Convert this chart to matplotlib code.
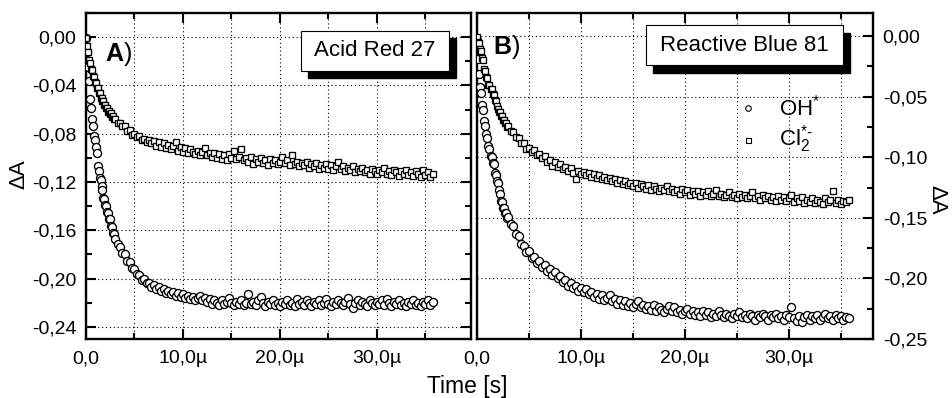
import numpy as np
import matplotlib
matplotlib.use("Agg")
import matplotlib.pyplot as plt
from matplotlib.patches import Rectangle
from matplotlib.ticker import FixedLocator, FixedFormatter, MultipleLocator

plt.rcParams['font.family'] = ['Liberation Sans', 'DejaVu Sans']
plt.rcParams['mathtext.fontset'] = 'custom'
plt.rcParams['mathtext.rm'] = 'Liberation Sans'
plt.rcParams['mathtext.it'] = 'Liberation Sans:italic'
plt.rcParams['mathtext.bf'] = 'Liberation Sans:bold'

# time samples in microseconds: 0.1 us steps at the start, 0.25 us afterwards
t_us = np.concatenate([np.arange(30) * 0.1, 3.0 + np.arange(132) * 0.25])

# A) Acid Red 27
ar_oh = [-0.001, -0.012, -0.025, -0.036, -0.051, -0.059, -0.068, -0.074, -0.082, -0.085,
         -0.091, -0.096, -0.107, -0.111, -0.117, -0.118, -0.123, -0.127, -0.133, -0.134,
         -0.139, -0.140, -0.145, -0.146, -0.151, -0.151, -0.156, -0.157, -0.162, -0.163,
         -0.167, -0.171, -0.174, -0.179, -0.180, -0.185, -0.186, -0.191, -0.192, -0.196,
         -0.197, -0.201, -0.200, -0.204, -0.204, -0.207, -0.205, -0.209, -0.207, -0.210,
         -0.209, -0.212, -0.210, -0.213, -0.211, -0.214, -0.212, -0.215, -0.213, -0.216,
         -0.214, -0.217, -0.215, -0.218, -0.216, -0.214, -0.218, -0.216, -0.219, -0.217,
         -0.221, -0.218, -0.220, -0.222, -0.218, -0.221, -0.219, -0.216, -0.220, -0.222,
         -0.219, -0.221, -0.218, -0.222, -0.220, -0.213, -0.221, -0.219, -0.222, -0.218,
         -0.215, -0.220, -0.223, -0.219, -0.221, -0.218, -0.222, -0.220, -0.223, -0.219,
         -0.221, -0.218, -0.222, -0.220, -0.223, -0.217, -0.221, -0.219, -0.222, -0.218,
         -0.220, -0.223, -0.219, -0.221, -0.218, -0.222, -0.220, -0.217, -0.221, -0.223,
         -0.219, -0.221, -0.218, -0.220, -0.222, -0.219, -0.216, -0.221, -0.224, -0.220,
         -0.218, -0.222, -0.219, -0.221, -0.223, -0.218, -0.220, -0.222, -0.219, -0.221,
         -0.218, -0.222, -0.217, -0.220, -0.223, -0.219, -0.221, -0.218, -0.222, -0.220,
         -0.223, -0.219, -0.221, -0.218, -0.222, -0.220, -0.223, -0.219, -0.221, -0.218,
         -0.222, -0.219]
ar_cl2 = [-0.001, -0.007, -0.012, -0.019, -0.021, -0.026, -0.027, -0.032, -0.033, -0.037,
          -0.038, -0.042, -0.042, -0.046, -0.046, -0.050, -0.050, -0.053, -0.053, -0.056,
          -0.056, -0.059, -0.059, -0.062, -0.061, -0.064, -0.063, -0.066, -0.065, -0.068,
          -0.068, -0.071, -0.071, -0.074, -0.074, -0.078, -0.077, -0.081, -0.080, -0.083,
          -0.082, -0.085, -0.084, -0.087, -0.085, -0.088, -0.086, -0.090, -0.087, -0.091,
          -0.088, -0.092, -0.089, -0.093, -0.090, -0.087, -0.094, -0.091, -0.095, -0.092,
          -0.096, -0.093, -0.095, -0.097, -0.094, -0.098, -0.095, -0.092, -0.098, -0.096,
          -0.099, -0.096, -0.100, -0.097, -0.101, -0.098, -0.102, -0.097, -0.100, -0.094,
          -0.101, -0.099, -0.093, -0.102, -0.100, -0.103, -0.099, -0.105, -0.101, -0.103,
          -0.100, -0.104, -0.102, -0.106, -0.101, -0.104, -0.102, -0.105, -0.103, -0.099,
          -0.104, -0.102, -0.106, -0.098, -0.105, -0.103, -0.107, -0.104, -0.106, -0.103,
          -0.108, -0.105, -0.107, -0.104, -0.109, -0.106, -0.108, -0.105, -0.109, -0.106,
          -0.110, -0.107, -0.103, -0.109, -0.107, -0.111, -0.108, -0.110, -0.107, -0.112,
          -0.109, -0.111, -0.108, -0.112, -0.110, -0.113, -0.109, -0.111, -0.113, -0.110,
          -0.112, -0.108, -0.113, -0.111, -0.114, -0.110, -0.112, -0.115, -0.111, -0.113,
          -0.110, -0.114, -0.112, -0.115, -0.111, -0.113, -0.116, -0.110, -0.114, -0.112,
          -0.116, -0.113]

# B) Reactive Blue 81
rb_oh = [-0.003, -0.019, -0.031, -0.042, -0.047, -0.057, -0.061, -0.070, -0.074, -0.081,
         -0.084, -0.091, -0.093, -0.099, -0.100, -0.105, -0.106, -0.113, -0.115, -0.120,
         -0.121, -0.127, -0.130, -0.136, -0.137, -0.142, -0.142, -0.146, -0.146, -0.150,
         -0.149, -0.155, -0.157, -0.163, -0.165, -0.172, -0.173, -0.178, -0.177, -0.183,
         -0.182, -0.187, -0.186, -0.191, -0.189, -0.194, -0.192, -0.197, -0.195, -0.200,
         -0.198, -0.203, -0.201, -0.206, -0.204, -0.208, -0.206, -0.210, -0.208, -0.211,
         -0.209, -0.213, -0.211, -0.215, -0.213, -0.217, -0.214, -0.218, -0.216, -0.214,
         -0.219, -0.217, -0.221, -0.218, -0.222, -0.219, -0.223, -0.220, -0.224, -0.221,
         -0.219, -0.224, -0.222, -0.225, -0.223, -0.226, -0.222, -0.227, -0.224, -0.226,
         -0.228, -0.225, -0.223, -0.227, -0.224, -0.228, -0.226, -0.229, -0.227, -0.225,
         -0.229, -0.227, -0.230, -0.228, -0.231, -0.227, -0.230, -0.228, -0.232, -0.229,
         -0.231, -0.227, -0.230, -0.232, -0.229, -0.231, -0.233, -0.229, -0.231, -0.228,
         -0.232, -0.230, -0.233, -0.229, -0.231, -0.234, -0.230, -0.232, -0.229, -0.231,
         -0.234, -0.230, -0.232, -0.229, -0.233, -0.231, -0.234, -0.230, -0.232, -0.224,
         -0.233, -0.235, -0.231, -0.236, -0.232, -0.230, -0.234, -0.231, -0.233, -0.230,
         -0.234, -0.232, -0.229, -0.233, -0.231, -0.234, -0.230, -0.233, -0.231, -0.234,
         -0.232, -0.233]
rb_cl2 = [-0.001, -0.005, -0.006, -0.011, -0.012, -0.018, -0.020, -0.027, -0.029, -0.034,
          -0.035, -0.040, -0.040, -0.044, -0.044, -0.048, -0.049, -0.053, -0.054, -0.058,
          -0.060, -0.063, -0.063, -0.066, -0.066, -0.069, -0.069, -0.072, -0.072, -0.075,
          -0.074, -0.078, -0.079, -0.083, -0.084, -0.088, -0.088, -0.093, -0.092, -0.096,
          -0.094, -0.098, -0.097, -0.101, -0.099, -0.104, -0.102, -0.107, -0.104, -0.108,
          -0.106, -0.110, -0.108, -0.111, -0.109, -0.113, -0.118, -0.111, -0.114, -0.112,
          -0.115, -0.113, -0.116, -0.114, -0.117, -0.115, -0.118, -0.116, -0.119, -0.117,
          -0.120, -0.118, -0.121, -0.119, -0.122, -0.120, -0.123, -0.121, -0.124, -0.121,
          -0.125, -0.122, -0.124, -0.126, -0.123, -0.127, -0.124, -0.126, -0.128, -0.125,
          -0.127, -0.124, -0.128, -0.126, -0.129, -0.127, -0.130, -0.126, -0.129, -0.127,
          -0.131, -0.128, -0.130, -0.128, -0.132, -0.129, -0.131, -0.128, -0.132, -0.130,
          -0.127, -0.132, -0.130, -0.133, -0.131, -0.129, -0.133, -0.131, -0.134, -0.130,
          -0.133, -0.131, -0.134, -0.132, -0.129, -0.134, -0.132, -0.135, -0.131, -0.134,
          -0.132, -0.135, -0.133, -0.136, -0.132, -0.135, -0.133, -0.136, -0.134, -0.131,
          -0.137, -0.134, -0.136, -0.133, -0.138, -0.135, -0.137, -0.134, -0.138, -0.135,
          -0.137, -0.139, -0.134, -0.137, -0.135, -0.128, -0.138, -0.135, -0.139, -0.136,
          -0.137, -0.135]

x_ticks = [0, 10, 20, 30]
x_ticklabels = ['0,0', '10,0\u00b5', '20,0\u00b5', '30,0\u00b5']
a_yticks = [0.0, -0.04, -0.08, -0.12, -0.16, -0.20, -0.24]
a_yticklabels = ['0,00', '-0,04', '-0,08', '-0,12', '-0,16', '-0,20', '-0,24']
b_yticks = [0.0, -0.05, -0.10, -0.15, -0.20, -0.25]
b_yticklabels = ['0,00', '-0,05', '-0,10', '-0,15', '-0,20', '-0,25']

W, H = 952, 398
fig = plt.figure(figsize=(W / 100, H / 100), dpi=100)
ax_a = fig.add_axes([86 / W, 1 - 339 / H, 385 / W, 326 / H])
ax_b = fig.add_axes([477 / W, 1 - 339 / H, 396 / W, 326 / H])

grid_kw = dict(color='black', linestyle=(0, (1, 2.5)), linewidth=0.8)


def style_axis(ax, yticks, ylabels, xlim, ylim, ydminor, right):
    ax.set_xlim(*xlim)
    ax.set_ylim(*ylim)
    ax.xaxis.set_major_locator(FixedLocator(x_ticks))
    ax.xaxis.set_major_formatter(FixedFormatter(x_ticklabels))
    ax.xaxis.set_minor_locator(MultipleLocator(5))
    ax.yaxis.set_major_locator(FixedLocator(yticks))
    ax.yaxis.set_major_formatter(FixedFormatter(ylabels))
    ax.yaxis.set_minor_locator(MultipleLocator(ydminor))
    ax.grid(True, which='both', axis='x', **grid_kw)
    ax.grid(True, which='major', axis='y', **grid_kw)
    ax.set_axisbelow(True)
    for s in ax.spines.values():
        s.set_linewidth(1.7)
    ax.tick_params(which='both', direction='in', width=1.5, top=True, labelsize=14)
    ax.tick_params(which='major', length=7)
    ax.tick_params(which='minor', length=4)
    ax.tick_params(axis='x', pad=8)
    if right:
        ax.tick_params(axis='y', which='both', left=False, right=True,
                       labelleft=False, labelright=True, pad=7)
    else:
        ax.tick_params(axis='y', which='both', left=True, right=True, pad=7)


style_axis(ax_a, a_yticks, a_yticklabels, (0, 39.7), (-0.25, 0.02), 0.02, False)
style_axis(ax_b, b_yticks, b_yticklabels, (0, 38.1), (-0.25, 0.019), 0.025, True)

mk = dict(linestyle='none', markerfacecolor='white', markeredgecolor='black',
          markeredgewidth=0.95, clip_on=True)
for ax, oh, cl2 in [(ax_a, ar_oh, ar_cl2), (ax_b, rb_oh, rb_cl2)]:
    ax.plot(t_us, oh, marker='o', markersize=5.8, zorder=3, **mk)
    ax.plot(t_us, cl2, marker='s', markersize=5.0, zorder=3, **mk)


def shadow_box(ax, x0, y0, x1, y1, text, dx, dy):
    ax.add_patch(Rectangle((x0 + dx, y0 - dy), x1 - x0, y1 - y0, transform=ax.transAxes,
                           facecolor='black', edgecolor='black', zorder=5, clip_on=False))
    ax.add_patch(Rectangle((x0, y0), x1 - x0, y1 - y0, transform=ax.transAxes,
                           facecolor='white', edgecolor='black', linewidth=0.8,
                           zorder=6, clip_on=False))
    ax.text((x0 + x1) / 2, (y0 + y1) / 2, text, transform=ax.transAxes,
            ha='center', va='center', fontsize=16, zorder=7)


shadow_box(ax_a, 0.558, 0.822, 0.943, 0.945, 'Acid Red 27', 0.019, 0.022)
shadow_box(ax_b, 0.427, 0.840, 0.924, 0.963, 'Reactive Blue 81', 0.018, 0.024)

ax_a.text(0.05, 0.875, r'$\mathbf{A}$)', transform=ax_a.transAxes, fontsize=18,
          ha='left', va='center', zorder=7)
ax_b.text(0.04, 0.895, r'$\mathbf{B}$)', transform=ax_b.transAxes, fontsize=18,
          ha='left', va='center', zorder=7)

# legend in panel B
ax_b.plot([0.684], [0.709], transform=ax_b.transAxes, marker='o', markersize=4,
          markerfacecolor='white', markeredgecolor='black', markeredgewidth=0.8, zorder=7)
ax_b.plot([0.684], [0.610], transform=ax_b.transAxes, marker='s', markersize=3.6,
          markerfacecolor='white', markeredgecolor='black', markeredgewidth=0.8, zorder=7)
ax_b.text(0.763, 0.687, r'OH$^{*}$', transform=ax_b.transAxes, fontsize=16,
          ha='left', va='baseline', zorder=7)
ax_b.text(0.763, 0.595, r'Cl$_{2}^{*\text{-}}$', transform=ax_b.transAxes, fontsize=16,
          ha='left', va='baseline', zorder=7)

fig.text(0.020, 0.563, '\u0394A', rotation=90, fontsize=16, ha='center', va='center')
fig.text(0.984, 0.497, '\u0394A', rotation=270, fontsize=16, ha='center', va='center')
fig.text(0.491, 0.028, 'Time [s]', fontsize=16.5, ha='center', va='center')

fig.savefig('out.png', dpi=100)
